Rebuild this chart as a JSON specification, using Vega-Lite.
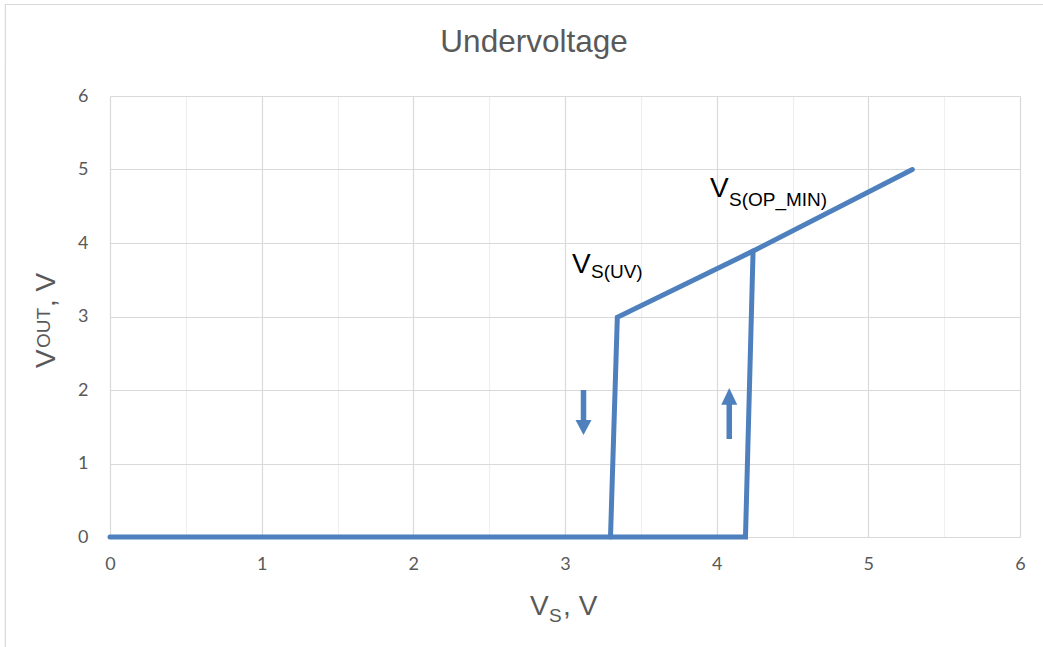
{
  "$schema": "https://vega.github.io/schema/vega-lite/v6.json",
  "autosize": "none",
  "width": 910,
  "height": 441,
  "padding": {"left": 110, "top": 96, "right": 23, "bottom": 110},
  "background": "white",
  "config": {
    "view": {"stroke": null},
    "axis": {"labelFont": "Lato", "labelFontSize": 18, "labelColor": "#595959", "domain": false, "ticks": false, "gridColor": "#d9d9d9", "gridWidth": 1.2, "labelFlush": false, "format": "d"}
  },
  "datasets": {
    "curve": [
      {"series": "a", "order": 1, "vs": 0, "vout": 0},
      {"series": "a", "order": 2, "vs": 4.19, "vout": 0},
      {"series": "a", "order": 3, "vs": 4.24, "vout": 3.89},
      {"series": "a", "order": 4, "vs": 5.29, "vout": 5.0},
      {"series": "b", "order": 1, "vs": 3.3, "vout": 0},
      {"series": "b", "order": 2, "vs": 3.345, "vout": 2.99},
      {"series": "b", "order": 3, "vs": 4.24, "vout": 3.89}
    ],
    "arrows": [
      {"dir": "down", "x": 3.122, "y1": 2.0, "y2": 1.58, "hy": 1.49},
      {"dir": "up", "x": 4.083, "y1": 1.81, "y2": 1.333, "hy": 1.912}
    ]
  },
  "layer": [
    {
      "data": {"values": [{"x1": -0.69, "x2": 6.3, "y1": -1.6, "y2": 7.245}]},
      "mark": {"type": "rect", "fill": null, "stroke": "#d9d9d9", "strokeWidth": 1.2, "clip": false},
      "encoding": {
        "x": {"field": "x1", "type": "quantitative", "scale": {"domain": [0, 6], "nice": false}},
        "x2": {"field": "x2"},
        "y": {"field": "y1", "type": "quantitative", "scale": {"domain": [0, 6], "nice": false}},
        "y2": {"field": "y2"}
      }
    },
    {
      "data": {"name": "curve"},
      "mark": {"type": "line", "color": "#4e80bd", "strokeWidth": 5, "strokeCap": "round", "strokeJoin": "miter", "clip": false},
      "encoding": {
        "x": {"field": "vs", "type": "quantitative", "scale": {"domain": [0, 6], "nice": false},
          "axis": {"values": [0, 0.5, 1, 1.5, 2, 2.5, 3, 3.5, 4, 4.5, 5, 5.5, 6], "title": null, "labelPadding": 18, "labelExpr": "datum.value % 1 ? '' : datum.label",
            "gridColor": {"condition": {"test": "datum.value % 1 !== 0", "value": "#efefef"}, "value": "#d9d9d9"}}},
        "y": {"field": "vout", "type": "quantitative", "scale": {"domain": [0, 6], "nice": false},
          "axis": {"values": [0, 1, 2, 3, 4, 5, 6], "title": null, "labelPadding": 22}},
        "detail": {"field": "series"},
        "order": {"field": "order"}
      }
    },
    {
      "data": {"name": "arrows"},
      "mark": {"type": "rule", "color": "#4e80bd", "strokeWidth": 5.5},
      "encoding": {
        "x": {"field": "x", "type": "quantitative"},
        "y": {"field": "y1", "type": "quantitative"},
        "y2": {"field": "y2"}
      }
    },
    {
      "data": {"name": "arrows"},
      "transform": [{"filter": "datum.dir === 'down'"}],
      "mark": {"type": "point", "shape": "M-1,-0.95L1,-0.95L0,0.95Z", "filled": true, "color": "#4e80bd", "opacity": 1, "size": 256},
      "encoding": {
        "x": {"field": "x", "type": "quantitative"},
        "y": {"field": "hy", "type": "quantitative"}
      }
    },
    {
      "data": {"name": "arrows"},
      "transform": [{"filter": "datum.dir === 'up'"}],
      "mark": {"type": "point", "shape": "M-1,1.05L1,1.05L0,-1.05Z", "filled": true, "color": "#4e80bd", "opacity": 1, "size": 256},
      "encoding": {
        "x": {"field": "x", "type": "quantitative"},
        "y": {"field": "hy", "type": "quantitative"}
      }
    },
    {
      "data": {"values": [{"x": 2.796, "y": 6.599, "t": "Undervoltage"}]},
      "mark": {"type": "text", "align": "center", "baseline": "alphabetic", "font": "Liberation Sans", "fontSize": 31.5, "color": "#595959"},
      "encoding": {"x": {"field": "x", "type": "quantitative"}, "y": {"field": "y", "type": "quantitative"}, "text": {"field": "t"}}
    },
    {
      "data": {"values": [{"x": 3.046, "y": 3.592, "main": "V", "sub": "S(UV)"}]},
      "layer": [
        {"mark": {"type": "text", "align": "left", "baseline": "alphabetic", "font": "Liberation Sans", "fontSize": 28, "color": "#000000"},
         "encoding": {"x": {"field": "x", "type": "quantitative"}, "y": {"field": "y", "type": "quantitative"}, "text": {"field": "main"}}},
        {"mark": {"type": "text", "align": "left", "baseline": "alphabetic", "font": "Liberation Sans", "fontSize": 19, "color": "#000000", "dx": 19, "dy": 5},
         "encoding": {"x": {"field": "x", "type": "quantitative"}, "y": {"field": "y", "type": "quantitative"}, "text": {"field": "sub"}}}
      ]
    },
    {
      "data": {"values": [{"x": 3.956, "y": 4.626, "main": "V", "sub": "S(OP_MIN)"}]},
      "layer": [
        {"mark": {"type": "text", "align": "left", "baseline": "alphabetic", "font": "Liberation Sans", "fontSize": 28, "color": "#000000"},
         "encoding": {"x": {"field": "x", "type": "quantitative"}, "y": {"field": "y", "type": "quantitative"}, "text": {"field": "main"}}},
        {"mark": {"type": "text", "align": "left", "baseline": "alphabetic", "font": "Liberation Sans", "fontSize": 19, "color": "#000000", "dx": 19, "dy": 9, "letterSpacing": -0.8},
         "encoding": {"x": {"field": "x", "type": "quantitative"}, "y": {"field": "y", "type": "quantitative"}, "text": {"field": "sub"}}}
      ]
    },
    {
      "data": {"values": [{"x": 2.77, "y": -1.061, "a": "V", "b": "S", "c": ", V"}]},
      "layer": [
        {"mark": {"type": "text", "align": "left", "baseline": "alphabetic", "font": "Liberation Sans", "fontSize": 28, "color": "#595959"},
         "encoding": {"x": {"field": "x", "type": "quantitative"}, "y": {"field": "y", "type": "quantitative"}, "text": {"field": "a"}}},
        {"mark": {"type": "text", "align": "left", "baseline": "alphabetic", "font": "Liberation Sans", "fontSize": 19, "color": "#595959", "dx": 19, "dy": 7},
         "encoding": {"x": {"field": "x", "type": "quantitative"}, "y": {"field": "y", "type": "quantitative"}, "text": {"field": "b"}}},
        {"mark": {"type": "text", "align": "left", "baseline": "alphabetic", "font": "Liberation Sans", "fontSize": 28, "color": "#595959", "dx": 33},
         "encoding": {"x": {"field": "x", "type": "quantitative"}, "y": {"field": "y", "type": "quantitative"}, "text": {"field": "c"}}}
      ]
    },
    {
      "data": {"values": [{"x": -0.3626, "y": 2.299, "a": "V", "b": "OUT", "c": ", V"}]},
      "layer": [
        {"mark": {"type": "text", "align": "left", "baseline": "alphabetic", "angle": 270, "font": "Liberation Sans", "fontSize": 28, "color": "#595959"},
         "encoding": {"x": {"field": "x", "type": "quantitative"}, "y": {"field": "y", "type": "quantitative"}, "text": {"field": "a"}}},
        {"mark": {"type": "text", "align": "left", "baseline": "alphabetic", "angle": 270, "font": "Liberation Sans", "fontSize": 19, "color": "#595959", "dx": 20, "dy": -5},
         "encoding": {"x": {"field": "x", "type": "quantitative"}, "y": {"field": "y", "type": "quantitative"}, "text": {"field": "b"}}},
        {"mark": {"type": "text", "align": "left", "baseline": "alphabetic", "angle": 270, "font": "Liberation Sans", "fontSize": 28, "color": "#595959", "dx": 61},
         "encoding": {"x": {"field": "x", "type": "quantitative"}, "y": {"field": "y", "type": "quantitative"}, "text": {"field": "c"}}}
      ]
    }
  ]
}
